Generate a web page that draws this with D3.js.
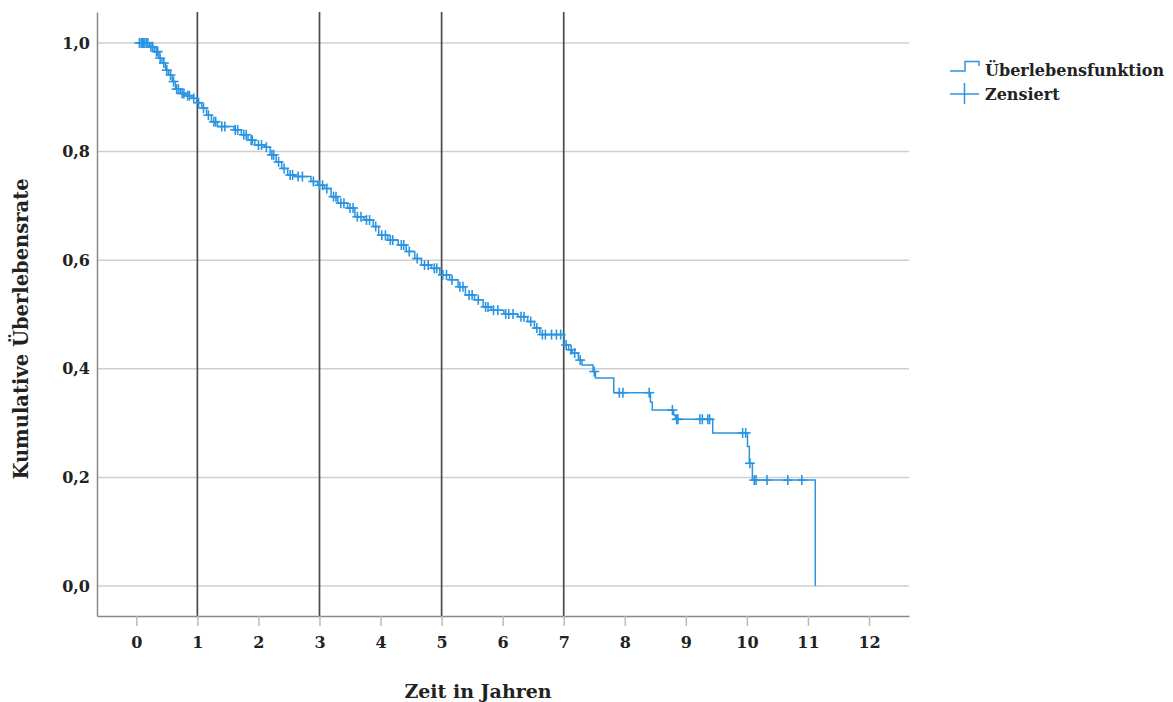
<!DOCTYPE html>
<html>
<head>
<meta charset="utf-8">
<script src="https://cdn.jsdelivr.net/npm/d3@7"></script>
<style>
  body { margin: 0; background: #fff; }
  svg text { font-family: "DejaVu Serif", "Liberation Serif", serif; font-weight: bold; fill: #222; }
</style>
</head>
<body>
<svg id="chart" width="1173" height="702"></svg>
<script>
// Kaplan-Meier estimate
const eventTimes = [0.22, 0.30, 0.37, 0.42, 0.48, 0.53, 0.59, 0.64, 0.72, 0.80, 0.91, 0.99,
  1.07, 1.15, 1.23, 1.33, 1.60, 1.72, 1.83, 1.94, 2.10, 2.19, 2.29, 2.38, 2.48, 2.60, 2.86, 2.97,
  3.08, 3.19, 3.30, 3.46, 3.58, 3.73, 3.88, 3.97, 4.12, 4.29, 4.42, 4.56, 4.67, 4.83, 4.97,
  5.13, 5.27, 5.39, 5.54, 5.68, 5.81, 6.02, 6.25, 6.41, 6.52, 6.61, 7.01, 7.08, 7.14, 7.24,
  7.30, 7.48, 7.52, 7.82, 8.42, 8.45, 8.80, 8.83, 9.44, 10.01, 10.04, 10.09, 11.12];
const survival = [0.993, 0.984, 0.972, 0.963, 0.950, 0.941, 0.929, 0.915, 0.907, 0.903, 0.898, 0.890,
  0.880, 0.867, 0.855, 0.846, 0.840, 0.831, 0.821, 0.812, 0.808, 0.794, 0.781, 0.769, 0.757, 0.754, 0.745, 0.738,
  0.732, 0.717, 0.705, 0.696, 0.680, 0.674, 0.662, 0.646, 0.637, 0.628, 0.616, 0.603, 0.591, 0.585, 0.573,
  0.564, 0.551, 0.536, 0.527, 0.514, 0.508, 0.501, 0.496, 0.487, 0.475, 0.463, 0.444, 0.435, 0.429, 0.416,
  0.407, 0.395, 0.383, 0.356, 0.339, 0.324, 0.315, 0.307, 0.282, 0.257, 0.226, 0.195, 0.0];
const censorTimes = [0.05, 0.08, 0.10, 0.12, 0.14, 0.17, 0.19, 0.24, 0.27, 0.33, 0.35, 0.39, 0.45, 0.50,
  0.56, 0.61, 0.66, 0.69, 0.75, 0.78, 0.84, 0.87, 0.94, 1.02, 1.10, 1.18, 1.27, 1.30, 1.40, 1.45, 1.62,
  1.66, 1.76, 1.80, 1.88, 1.90, 2.00, 2.05, 2.13, 2.22, 2.25, 2.33, 2.42, 2.52, 2.56, 2.65, 2.72, 2.90,
  3.00, 3.05, 3.12, 3.23, 3.27, 3.35, 3.40, 3.50, 3.55, 3.62, 3.68, 3.77, 3.82, 3.92, 4.02, 4.08, 4.16,
  4.20, 4.34, 4.38, 4.47, 4.60, 4.72, 4.78, 4.88, 4.92, 5.02, 5.08, 5.17, 5.30, 5.35, 5.45, 5.50, 5.60,
  5.72, 5.76, 5.85, 5.92, 6.05, 6.10, 6.17, 6.30, 6.35, 6.46, 6.56, 6.65, 6.70, 6.80, 6.88, 6.95, 7.04,
  7.12, 7.18, 7.27, 7.50, 7.91, 7.97, 8.40, 8.78, 8.85, 8.87, 9.23, 9.27, 9.36, 9.39, 9.93, 9.98,
  10.05, 10.12, 10.15, 10.33, 10.67, 10.90];
const startTime = 0.03;
const xTicks = [0, 1, 2, 3, 4, 5, 6, 7, 8, 9, 10, 11, 12];
const yTicks = [0, 0.2, 0.4, 0.6, 0.8, 1.0];
const refLines = [1, 3, 5, 7];

const svg = d3.select('#chart');
const plotLeft = 97, plotRight = 909, plotTop = 12, plotBottom = 616;
const blue = '#2b94e1';

const x = d3.scaleLinear().domain([-0.644, 12.655]).range([plotLeft, plotRight]);
const y = d3.scaleLinear().domain([-0.0552, 1.057]).range([plotBottom, plotTop]);

// horizontal grid
svg.append('g')
  .selectAll('line').data(yTicks).join('line')
  .attr('x1', plotLeft).attr('x2', plotRight)
  .attr('y1', d => y(d)).attr('y2', d => y(d))
  .attr('stroke', '#cfcfcf').attr('stroke-width', 1.5);

// reference lines
svg.append('g')
  .selectAll('line').data(refLines).join('line')
  .attr('x1', d => x(d)).attr('x2', d => x(d))
  .attr('y1', plotTop).attr('y2', plotBottom)
  .attr('stroke', '#4a4a4a').attr('stroke-width', 1.7);

// axes
const xAxis = svg.append('g')
  .attr('transform', `translate(0,${plotBottom})`)
  .call(d3.axisBottom(x).tickValues(xTicks).tickSize(10).tickSizeOuter(0).tickPadding(11)
    .tickFormat(d3.format('d')));
xAxis.select('.domain').attr('stroke', '#8a8a8a').attr('stroke-width', 1.5);
xAxis.selectAll('.tick line').attr('stroke', '#bbb').attr('stroke-width', 1.5);
xAxis.selectAll('text').attr('font-size', 16).attr('font-family', null).attr('fill', '#222');

const yAxis = svg.append('g')
  .attr('transform', `translate(${plotLeft},0)`)
  .call(d3.axisLeft(y).tickValues(yTicks).tickSize(0).tickPadding(7)
    .tickFormat(d => d3.format('.1f')(d).replace('.', ',')));
yAxis.select('.domain').attr('stroke', '#8a8a8a').attr('stroke-width', 1.5);
yAxis.selectAll('text').attr('font-size', 16).attr('font-family', null).attr('fill', '#222');

// step curve
const steps = [[startTime, 1]];
eventTimes.forEach((t, i) => steps.push([t, survival[i]]));
const line = d3.line().x(d => x(d[0])).y(d => y(d[1])).curve(d3.curveStepAfter);
svg.append('path')
  .datum(steps)
  .attr('fill', 'none')
  .attr('stroke', blue)
  .attr('stroke-width', 1.5)
  .attr('d', line);

// censored marks
function survivalAt(t) {
  const i = d3.bisectRight(eventTimes, t);
  return i === 0 ? 1 : survival[i - 1];
}
const cs = 5;
const marks = svg.append('g').attr('stroke', blue).attr('stroke-width', 1.6);
censorTimes.forEach(t => {
  const cx = x(t), cy = y(survivalAt(t));
  marks.append('line').attr('x1', cx - cs).attr('x2', cx + cs).attr('y1', cy).attr('y2', cy);
  marks.append('line').attr('x1', cx).attr('x2', cx).attr('y1', cy - cs).attr('y2', cy + cs);
});

// axis titles
svg.append('text')
  .attr('x', 478).attr('y', 698)
  .attr('text-anchor', 'middle').attr('font-size', 19)
  .text('Zeit in Jahren');
svg.append('text')
  .attr('transform', 'translate(28,329) rotate(-90)')
  .attr('text-anchor', 'middle').attr('font-size', 19.5)
  .text('Kumulative Überlebensrate');

// legend
const lg = svg.append('g');
lg.append('path')
  .attr('d', 'M950,71H965V61.5H979V66')
  .attr('fill', 'none').attr('stroke', blue).attr('stroke-width', 1.5);
lg.append('line').attr('x1', 950).attr('x2', 979).attr('y1', 94).attr('y2', 94)
  .attr('stroke', blue).attr('stroke-width', 1.5);
lg.append('line').attr('x1', 964.5).attr('x2', 964.5).attr('y1', 83).attr('y2', 104)
  .attr('stroke', blue).attr('stroke-width', 1.5);
lg.append('text').attr('x', 985).attr('y', 76).attr('font-size', 16).text('Überlebensfunktion');
lg.append('text').attr('x', 985).attr('y', 100).attr('font-size', 16).text('Zensiert');
</script>
</body>
</html>
